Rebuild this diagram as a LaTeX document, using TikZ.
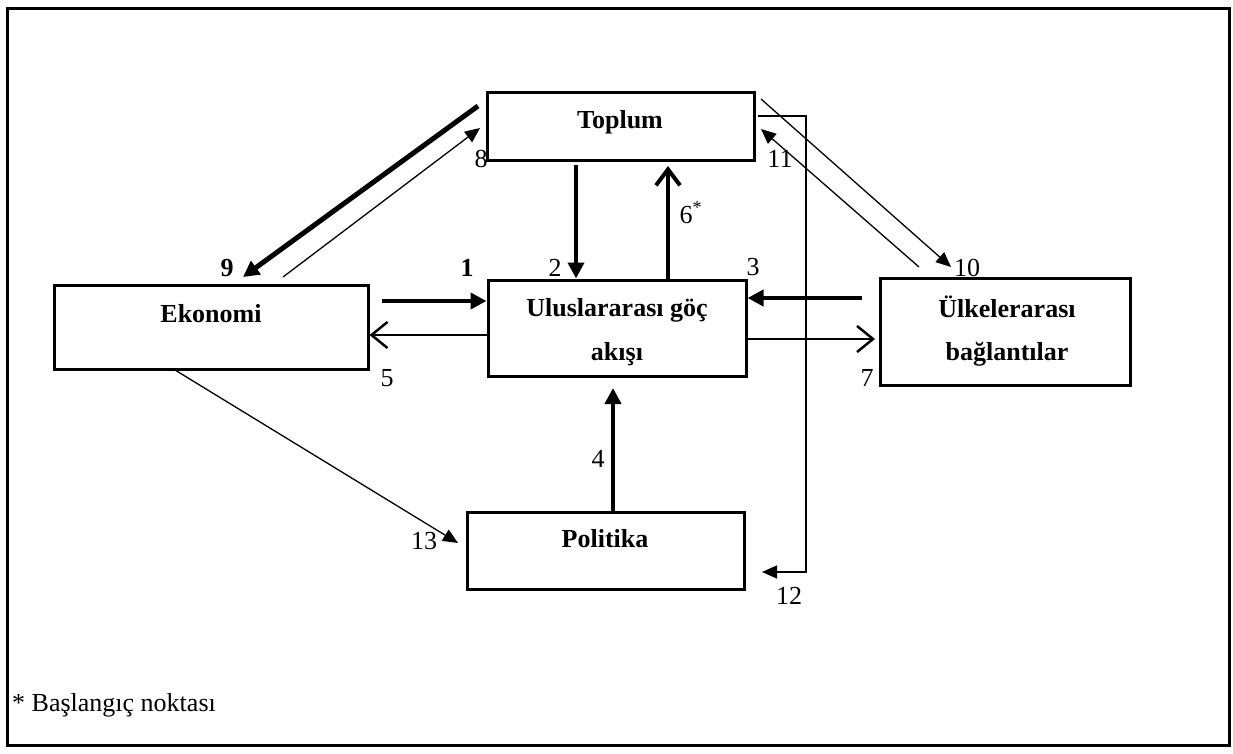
\documentclass[tikz,border=0pt]{standalone}
\usepackage{fontspec}
\setmainfont{Liberation Serif}
\usetikzlibrary{arrows.meta}
\begin{document}
\begin{tikzpicture}[x=1pt,y=-1pt,
  box/.style={draw,line width=3pt,inner sep=0pt,rectangle},
  boxtext/.style={font=\fontsize{26}{30}\selectfont\bfseries,anchor=base,inner sep=0pt},
  num/.style={font=\fontsize{26}{30}\selectfont,anchor=base,inner sep=0pt},
  bnum/.style={font=\fontsize{26}{30}\selectfont\bfseries,anchor=base,inner sep=0pt},
  heavy/.style={line width=4.5pt,-{Triangle[length=16pt,width=16pt]}},
  mid/.style={line width=2.5pt,-{Straight Barb[length=16pt,width=26pt]}},
  heavybarb/.style={line width=4pt,-{Straight Barb[length=16pt,width=24pt]}},
  thin/.style={line width=1.3pt,-{Triangle[length=15pt,width=13pt]}}]
\useasboundingbox (0,0) rectangle (1233,753);
\draw[line width=3pt] (7,8) rectangle (1229,745);
% boxes
\node[box,minimum width=267pt,minimum height=68pt] (top) at (620.5,126) {};
\node[box,minimum width=258pt,minimum height=96pt] (ulu) at (617,328) {};
\node[box,minimum width=314pt,minimum height=84pt] (eko) at (211,327) {};
\node[box,minimum width=250pt,minimum height=107pt] (ulk) at (1005,331.5) {};
\node[box,minimum width=277pt,minimum height=77pt] (pol) at (605.5,550.5) {};
% box texts
\node[boxtext] (topt) at (620,128) {Toplum};
\node[boxtext] (ulut1) at (617,316) {Uluslararası göç};
\node[boxtext] (ulut2) at (617,360) {akışı};
\node[boxtext] (ekot) at (211,322) {Ekonomi};
\node[boxtext] (ulkt1) at (1007,317) {Ülkelerarası};
\node[boxtext] (ulkt2) at (1007,360) {bağlantılar};
\node[boxtext] (polt) at (605,547) {Politika};
% coordinates
\coordinate (a1s) at (382,301);
\coordinate (a2s) at (576,165);
\coordinate (a6e) at (668,166);
\coordinate (a3s) at (862,298);
\coordinate (a7e) at (875,339);
\coordinate (a4e) at (613,388);
\coordinate (a9s) at (478,106);
\coordinate (a9e) at (243,277);
\coordinate (a8s) at (283,277);
\coordinate (a8e) at (480,128);
\coordinate (a10s) at (761,99);
\coordinate (a10e) at (951,267);
\coordinate (a11s) at (919,267);
\coordinate (a11e) at (761,129);
\coordinate (a12s) at (758,116);
\coordinate (a12a) at (806,116);
\coordinate (a12b) at (806,572);
\coordinate (a12e) at (762,572);
\coordinate (a13s) at (175,370);
\coordinate (a13e) at (458,543);
% connectors
\draw[heavy] (a1s) -- (ulu.west |- a1s);
\draw[mid] (ulu.west |- 0,335) -- (eko.east |- 0,335);
\draw[heavy] (a2s) -- (a2s |- ulu.north);
\draw[heavybarb] (a6e |- ulu.north) -- (a6e);
\draw[heavy] (a3s) -- (ulu.east |- a3s);
\draw[mid] (ulu.east |- a7e) -- (a7e);
\draw[heavy] (a4e |- pol.north) -- (a4e);
\draw[heavy,line width=5pt] (a9s) -- (a9e);
\draw[thin] (a8s) -- (a8e);
\draw[thin] (a10s) -- (a10e);
\draw[thin] (a11s) -- (a11e);
\draw[thin] (a12s) -- (a12a) -- (a12b) -- (a12e);
\draw[thin] (a13s) -- (a13e);
% labels
\node[bnum] (l1) at (467,276) {1};
\node[num] (l2) at (555,276) {2};
\node[num] (l3) at (753,275) {3};
\node[num] (l4) at (598,467) {4};
\node[num] (l5) at (387,386) {5};
\node[num] (l6) at (691,223) {6\textsuperscript{*}};
\node[num] (l7) at (867,386) {7};
\node[num] (l8) at (481,167) {8};
\node[bnum] (l9) at (227,276) {9};
\node[num] (l10) at (967,276) {10};
\node[num] (l11) at (780,167) {11};
\node[num] (l12) at (789,604) {12};
\node[num] (l13) at (424,549) {13};
\node[num,anchor=base west] (note) at (12,711) {* Başlangıç noktası};
\end{tikzpicture}
\end{document}
